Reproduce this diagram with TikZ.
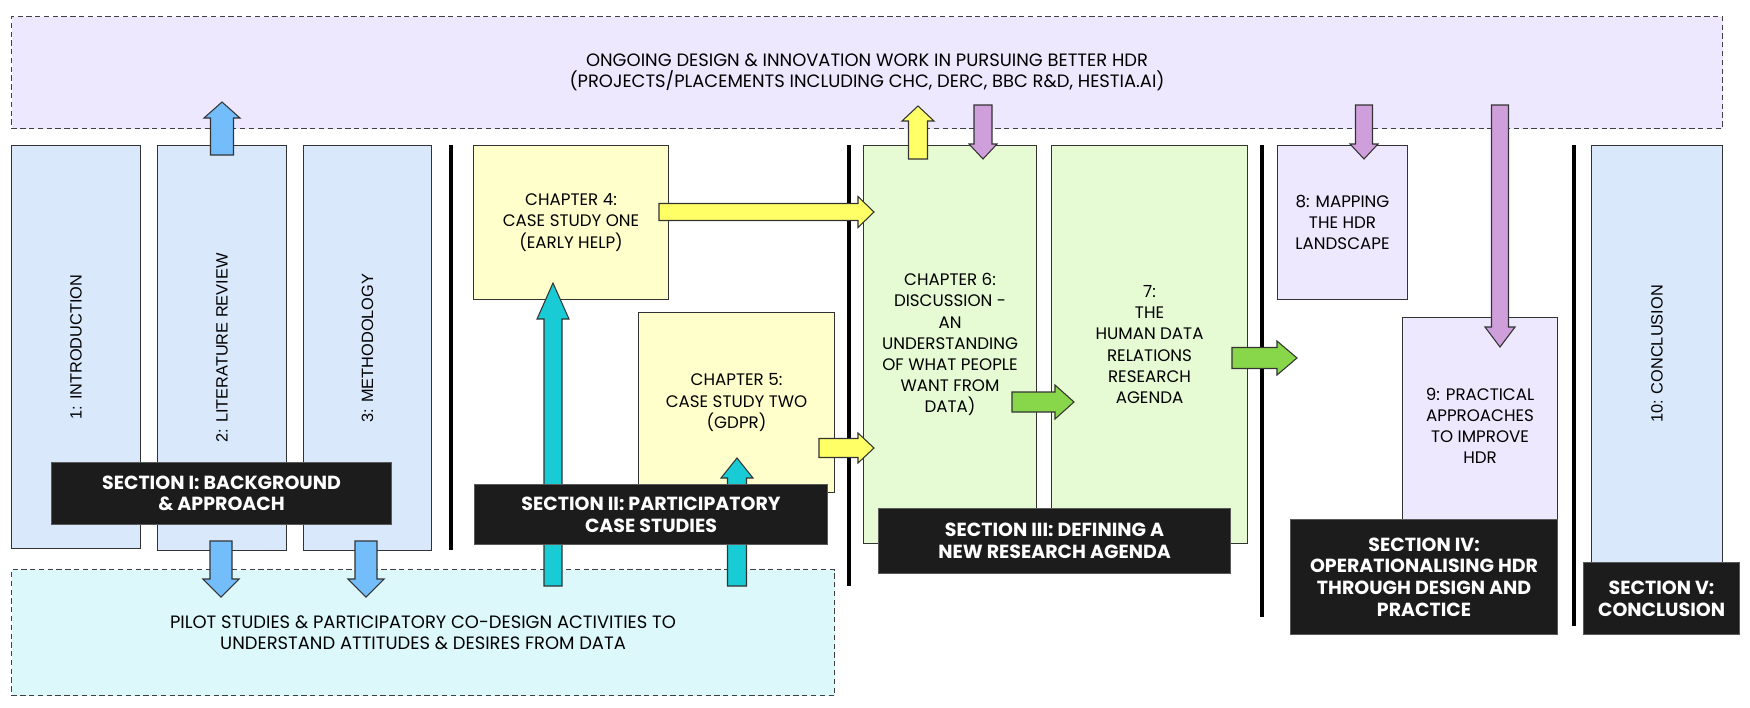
\documentclass[tikz,border=0pt]{standalone}
\usepackage{fontspec}
\setmainfont{Poppins}
\newfontfamily\sidefont{Liberation Sans}
\usepackage{tikz}
\usetikzlibrary{calc}

\definecolor{lavender}{HTML}{EDE8FD}
\definecolor{paleblue}{HTML}{DAE8FC}
\definecolor{paleyellow}{HTML}{FFFFCC}
\definecolor{palegreen}{HTML}{E6FBD3}
\definecolor{palecyan}{HTML}{DCF8FB}
\definecolor{secblack}{HTML}{1C1C1C}
\definecolor{arrblue}{HTML}{73BEFA}
\definecolor{arrteal}{HTML}{18CBD4}
\definecolor{arryellow}{HTML}{FFFF66}
\definecolor{arrpurple}{HTML}{CF9FDB}
\definecolor{arrgreen}{HTML}{88D64A}

% block arrow: style, from, to, shaft half width, head half width, head length (px)
\newcommand{\BlockArrow}[6]{%
  \coordinate (hb) at ($(#3)!#6*0.02cm!(#2)$);
  \draw[#1] ($(#2)!#4*0.02cm!90:(#3)$) -- ($(hb)!#4*0.02cm!90:(#3)$)
    -- ($(hb)!#5*0.02cm!90:(#3)$) -- (#3)
    -- ($(hb)!#5*0.02cm!-90:(#3)$) -- ($(hb)!#4*0.02cm!-90:(#3)$)
    -- ($(#2)!#4*0.02cm!-90:(#3)$) -- cycle;}

\begin{document}
\begin{tikzpicture}[
x=0.02cm, y=-0.02cm,
WH/.style 2 args={minimum width=#1*0.02cm, minimum height=#2*0.02cm},
Frame/.style={draw=black!80, line width=0.6pt, inner sep=0pt, anchor=north west,
  align=center, font=\fontsize{9.5}{12}\selectfont},
Dashed/.style={Frame, draw=black!75, dash pattern=on 3pt off 2pt,
  font=\fontsize{10.2}{12}\selectfont},
SideBox/.style={Frame, fill=paleblue, font=\sidefont\fontsize{9.3}{12}\selectfont},
Section/.style={draw=black!65, line width=0.6pt, fill=secblack, text=white,
  inner sep=0pt, anchor=north west, align=center,
  font=\bfseries\fontsize{10.8}{12.3}\selectfont},
SepLine/.style={black, line width=2.4pt},
ArrowBox/.style={draw=black!80, line width=0.6pt, fill=#1}
]
\useasboundingbox (0,0) rectangle (1750,707);

% ongoing work and pilot studies
\node[Dashed, fill=lavender, WH={1711}{112}] (ongoing) at (11,16)
  {ONGOING DESIGN \& INNOVATION WORK IN PURSUING BETTER HDR\\
   (PROJECTS/PLACEMENTS INCLUDING CHC, DERC, BBC R\&D, HESTIA.AI)};
\node[Dashed, fill=palecyan, WH={823}{126}] (pilot) at (11,569)
  {PILOT STUDIES \& PARTICIPATORY CO-DESIGN ACTIVITIES TO\\
   UNDERSTAND ATTITUDES \& DESIRES FROM DATA};

% chapters
\node[SideBox, WH={129}{403}] (intro) at (11,145) {\rotatebox{90}{1: INTRODUCTION}};
\node[SideBox, WH={129}{405}] (litrev) at (157,145) {\rotatebox{90}{2: LITERATURE REVIEW}};
\node[SideBox, WH={128}{405}] (method) at (303,145) {\rotatebox{90}{3: METHODOLOGY}};
\node[Frame, fill=paleyellow, WH={195}{154}] (caseone) at (473,145)
  {CHAPTER 4:\\CASE STUDY ONE\\(EARLY HELP)};
\node[Frame, fill=paleyellow, WH={196}{180}] (casetwo) at (638,312)
  {CHAPTER 5:\\CASE STUDY TWO\\(GDPR)};
\node[Frame, fill=palegreen, WH={173}{398}] (discuss) at (863,145)
  {CHAPTER 6:\\DISCUSSION -\\AN\\UNDERSTANDING\\OF WHAT PEOPLE\\WANT FROM\\DATA)};
\node[Frame, fill=palegreen, WH={196}{398}] (agenda) at (1051,145)
  {7:\\THE\\HUMAN DATA\\RELATIONS\\RESEARCH\\AGENDA};
\node[Frame, fill=lavender, WH={130}{154}] (mapping) at (1277,145)
  {8: MAPPING\\THE HDR\\LANDSCAPE};
\node[Frame, fill=lavender, WH={155}{217}] (practical) at (1402,317)
  {9: PRACTICAL\\APPROACHES\\TO IMPROVE\\HDR};
\node[SideBox, WH={131}{417}] (concl) at (1591,145) {\rotatebox{90}{10: CONCLUSION}};

% section dividers
\draw[SepLine] (451,145) -- (451,550);
\draw[SepLine] (849,145) -- (849,586);
\draw[SepLine] (1262,145) -- (1262,617);
\draw[SepLine] (1574,145) -- (1574,626);

% arrow ends
\coordinate (LitA) at (222,155);   \coordinate (LitB) at (222,102);
\coordinate (LitC) at (221,541);   \coordinate (LitD) at (221,597);
\coordinate (MetC) at (366,541);   \coordinate (MetD) at (366,597);
\coordinate (PilA) at (553,586);   \coordinate (PilB) at (553,283);
\coordinate (PilC) at (737,586);   \coordinate (PilD) at (737,458);
\coordinate (OneA) at (659,212);   \coordinate (OneB) at (874,212);
\coordinate (TwoA) at (819,448);   \coordinate (TwoB) at (874,448);
\coordinate (DisA) at (918,159);   \coordinate (DisB) at (918,106);
\coordinate (OngA) at (983,105);   \coordinate (OngB) at (983,159);
\coordinate (OngC) at (1364,105);  \coordinate (OngD) at (1364,159);
\coordinate (OngE) at (1500,105);  \coordinate (OngF) at (1500,347);
\coordinate (DisC) at (1012,402);  \coordinate (DisD) at (1074,402);
\coordinate (AgeA) at (1232,358);  \coordinate (AgeB) at (1297,358);

\BlockArrow{ArrowBox=arrblue}{LitA}{LitB}{11.5}{18}{16}
\BlockArrow{ArrowBox=arrblue}{LitC}{LitD}{11}{18}{18}
\BlockArrow{ArrowBox=arrblue}{MetC}{MetD}{11}{18}{18}
\BlockArrow{ArrowBox=arrteal}{PilA}{PilB}{9}{16}{36}
\BlockArrow{ArrowBox=arrteal}{PilC}{PilD}{9.5}{16}{20}
\BlockArrow{ArrowBox=arryellow}{OneA}{OneB}{8.5}{15.5}{16}
\BlockArrow{ArrowBox=arryellow}{TwoA}{TwoB}{9.5}{15}{16}
\BlockArrow{ArrowBox=arryellow}{DisA}{DisB}{9.5}{16}{15}
\BlockArrow{ArrowBox=arrpurple}{OngA}{OngB}{9}{14}{15}
\BlockArrow{ArrowBox=arrpurple}{OngC}{OngD}{8.5}{14}{15}
\BlockArrow{ArrowBox=arrpurple}{OngE}{OngF}{8.5}{15}{20}
\BlockArrow{ArrowBox=arrgreen}{DisC}{DisD}{10}{17}{19}
\BlockArrow{ArrowBox=arrgreen}{AgeA}{AgeB}{10.5}{17}{20}

% section labels
\node[Section, WH={340}{62}] (secone) at (51,462) {SECTION I: BACKGROUND\\\& APPROACH};
\node[Section, WH={353}{60}] (sectwo) at (474,484) {SECTION II: PARTICIPATORY\\CASE STUDIES};
\node[Section, WH={352}{65}] (secthree) at (878,508) {SECTION III: DEFINING A\\NEW RESEARCH AGENDA};
\node[Section, WH={267}{115}] (secfour) at (1290,519)
  {SECTION IV:\\OPERATIONALISING HDR\\THROUGH DESIGN AND\\PRACTICE};
\node[Section, WH={156}{72}] (secfive) at (1583,562) {SECTION V:\\CONCLUSION};

\end{tikzpicture}
\end{document}
